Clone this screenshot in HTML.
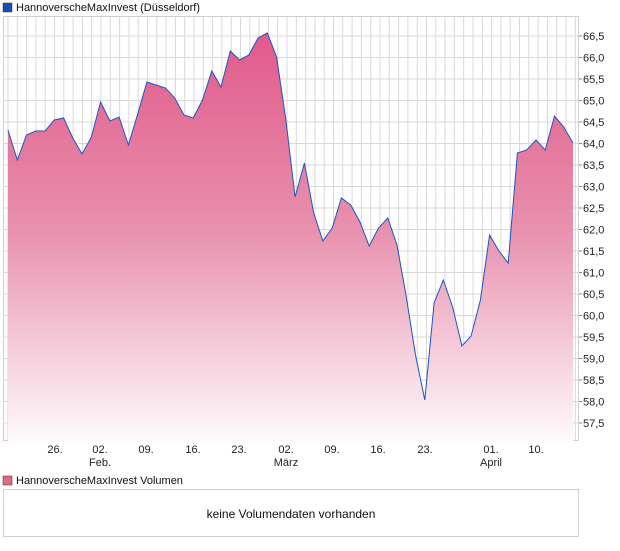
<!DOCTYPE html>
<html><head><meta charset="utf-8"><style>
body{margin:0;background:#fff;font-family:"Liberation Sans",sans-serif;}
</style></head><body>
<svg width="620" height="546" xmlns="http://www.w3.org/2000/svg" font-family="Liberation Sans, sans-serif">
<defs>
<linearGradient id="g" x1="0" y1="16" x2="0" y2="441" gradientUnits="userSpaceOnUse">
<stop offset="0" stop-color="#e05587"/>
<stop offset="0.5" stop-color="#e890ad"/>
<stop offset="1" stop-color="#fefafc"/>
</linearGradient>
</defs>
<rect x="3" y="3" width="9" height="9" fill="#1a4fb0" stroke="#333" stroke-width="0.5"/>
<text x="16" y="11" font-size="11" fill="#111">HannoverscheMaxInvest (Düsseldorf)</text>
<g id="grid" stroke="#d8d8d8" stroke-width="1"></g>
<rect x="3.5" y="16.5" width="575" height="424" fill="none" stroke="#d0d0d0"/>
<polygon id="area" fill="url(#g)"/>
<polyline id="line" fill="none" stroke="#1a55c8" stroke-width="1"/>
<g id="ylab" font-size="11" fill="#222"></g>
<g font-size="11" fill="#222" text-anchor="middle">
<text x="55" y="453">26.</text>
<text x="100" y="453">02.</text><text x="100" y="466">Feb.</text>
<text x="146" y="453">09.</text>
<text x="193" y="453">16.</text>
<text x="239" y="453">23.</text>
<text x="286" y="453">02.</text><text x="286" y="466">März</text>
<text x="332" y="453">09.</text>
<text x="378" y="453">16.</text>
<text x="425" y="453">23.</text>
<text x="491" y="453">01.</text><text x="491" y="466">April</text>
<text x="536" y="453">10.</text>
</g>
<rect x="3" y="476" width="9" height="9" fill="#e06a80" stroke="#333" stroke-width="0.5"/>
<text x="16" y="484" font-size="11" fill="#111">HannoverscheMaxInvest Volumen</text>
<rect x="3.5" y="489.5" width="575" height="47" fill="none" stroke="#d0d0d0"/>
<text x="291" y="518" font-size="12" fill="#111" text-anchor="middle">keine Volumendaten vorhanden</text>
</svg>
<script>
var ns="http://www.w3.org/2000/svg";
var grid=document.getElementById('grid');
function ln(x1,y1,x2,y2,p){var l=document.createElementNS(ns,'line');l.setAttribute('x1',x1);l.setAttribute('y1',y1);l.setAttribute('x2',x2);l.setAttribute('y2',y2);(p||grid).appendChild(l);return l;}
for(var x=8;x<578;x+=9.3){ln(x.toFixed(1),17,x.toFixed(1),441);}
var ylab=document.getElementById('ylab');
for(var i=0;i<=18;i++){var v=66.5-i*0.5;var y=36+i*21.5;ln(3,y,579,y);
var t=document.createElementNS(ns,'text');t.setAttribute('x',583);t.setAttribute('y',y+4);t.textContent=v.toFixed(1).replace('.',',');ylab.appendChild(t);
var k=ln(579,y,582,y);k.setAttribute('stroke','#888');}
var ys=[130,160,135,131,131,120,118,138,154,137,102,121,117,145,114,82,85,88,98,115,118,100,71,87,51,60,55,38,33,57,120,197,163,213,241,228,198,205,222,246,228,218,245,297,355,400,303,280,307,346,336,300,235,251,263,153,150,140,150,116,127,143];
var pts=[];var n=ys.length;for(var j=0;j<n;j++){pts.push((8+j*(565/(n-1))).toFixed(1)+','+ys[j]);}
document.getElementById('line').setAttribute('points',pts.join(' '));
document.getElementById('area').setAttribute('points','8,441 '+pts.join(' ')+' 573,441');
</script>
</body></html>
